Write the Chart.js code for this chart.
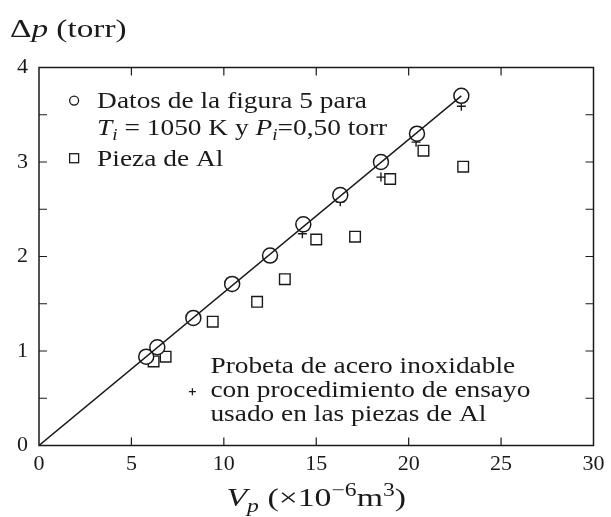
<!DOCTYPE html>
<html>
<head>
<meta charset="utf-8">
<script src="https://cdn.jsdelivr.net/npm/chart.js@4.4.1/dist/chart.umd.min.js"></script>
<style>
  html, body { margin: 0; padding: 0; background: #fff; }
  #wrap { width: 611px; height: 517px; position: relative; }
</style>
</head>
<body>
<div id="wrap"><canvas id="chart" width="611" height="517"></canvas></div>
<script>
// circles: datos de la figura 5
const circleX = [5.8, 6.4, 8.35, 10.45, 12.5, 14.3, 16.3, 18.5, 20.45, 22.85]
const circleY = [0.94, 1.04, 1.35, 1.71, 2.01, 2.34, 2.65, 3.0, 3.30, 3.70]
// squares: pieza de Al
const squareX = [6.2, 6.85, 9.4, 11.8, 13.3, 15.0, 17.1, 19.0, 20.8, 22.95]
const squareY = [0.89, 0.94, 1.31, 1.52, 1.76, 2.18, 2.21, 2.82, 3.12, 2.95]
// plus: probeta de acero inoxidable
const plusX = [5.85, 6.4, 8.35, 10.45, 12.5, 14.25, 16.3, 18.5, 20.4, 22.85]
const plusY = [0.93, 1.05, 1.34, 1.67, 2.0, 2.24, 2.58, 2.84, 3.21, 3.59]
// fitted line
const lineX = [0, 22.85]
const lineY = [0, 3.70]

const xTicks = [0, 5, 10, 15, 20, 25, 30]
const yTicks = [0, 1, 2, 3, 4]

const ink = "#1a1a1a"
const serif = "'Liberation Serif', 'DejaVu Serif', serif"

const pts = (xs, ys) => xs.map((x, i) => ({ x: x, y: ys[i] }))

// draws text made of pieces [text, style], style "" | "i" | "sub" | "sup"
// sx stretches it sideways (computer modern is wider than times)
function drawRich(ctx, x, y, parts, size, sx, measureOnly) {
  ctx.save()
  ctx.translate(x, y)
  ctx.scale(sx, 1)
  let cx = 0
  parts.forEach(([t, s]) => {
    let fs = size
    let dy = 0
    let style = ""
    if (s === "i") style = "italic "
    if (s === "sub") { style = "italic "; fs = size * 0.7; dy = size * 0.22 }
    if (s === "sup") { fs = size * 0.7; dy = -size * 0.4 }
    ctx.font = `${style}${fs}px ${serif}`
    if (!measureOnly) ctx.fillText(t, cx, dy)
    cx += ctx.measureText(t).width
  })
  ctx.restore()
  return cx * sx
}

const decor = {
  id: "decor",
  afterDraw(chart) {
    const ctx = chart.ctx
    const a = chart.chartArea
    const xs = chart.scales.x
    const ys = chart.scales.y
    ctx.save()
    ctx.strokeStyle = ink
    ctx.lineWidth = 1.5
    ctx.strokeRect(a.left, a.top, a.right - a.left, a.bottom - a.top)
    ctx.lineWidth = 1.2
    ctx.beginPath()
    for (let v = 5; v < 30; v += 5) {
      const px = xs.getPixelForValue(v)
      ctx.moveTo(px, a.bottom); ctx.lineTo(px, a.bottom - 8)
      ctx.moveTo(px, a.top); ctx.lineTo(px, a.top + 8)
    }
    for (let v = 0.5; v < 4; v += 0.5) {
      const py = ys.getPixelForValue(v)
      ctx.moveTo(a.left, py); ctx.lineTo(a.left + 8, py)
      ctx.moveTo(a.right, py); ctx.lineTo(a.right - 8, py)
    }
    ctx.stroke()

    ctx.fillStyle = ink
    ctx.textBaseline = "alphabetic"
    ctx.textAlign = "left"
    // axis titles
    drawRich(ctx, 10, 37, [["Δ", ""], ["p", "i"], [" (torr)", ""]], 26, 1.28)
    const xt = [["V", "i"], ["p", "sub"], [" (×10", ""], ["−6", "sup"], ["m", ""], ["3", "sup"], [")", ""]]
    const w = drawRich(ctx, 0, 0, xt, 26, 1.3, true)
    drawRich(ctx, (a.left + a.right) / 2 - w / 2, 506, xt, 26, 1.3)

    // legend top-left
    const L = (vx, vy) => [xs.getPixelForValue(vx), ys.getPixelForValue(vy)]
    const k = 1.19
    let [mx, my] = L(1.9, 3.65)
    ctx.lineWidth = 1.3
    ctx.beginPath(); ctx.arc(mx, my, 4.5, 0, Math.PI * 2); ctx.stroke()
    drawRich(ctx, mx + 23, my + 7, [["Datos de la figura 5 para", ""]], 23, k)
    drawRich(ctx, mx + 23, my + 34, [["T", "i"], ["i", "sub"], [" = 1050 K y ", ""], ["P", "i"], ["i", "sub"], ["=0,50 torr", ""]], 23, k)
    ;[mx, my] = L(1.9, 3.04)
    ctx.strokeRect(mx - 4.5, my - 4.5, 9, 9)
    drawRich(ctx, mx + 23, my + 8, [["Pieza de Al", ""]], 23, k)

    // legend bottom-right
    ;[mx, my] = L(8.3, 0.57)
    ctx.beginPath()
    ctx.moveTo(mx - 3.5, my); ctx.lineTo(mx + 3.5, my)
    ctx.moveTo(mx, my - 3.5); ctx.lineTo(mx, my + 3.5)
    ctx.stroke()
    drawRich(ctx, mx + 18, my - 19, [["Probeta de acero inoxidable", ""]], 23, k)
    drawRich(ctx, mx + 18, my + 5, [["con procedimiento de ensayo", ""]], 23, k)
    drawRich(ctx, mx + 18, my + 29, [["usado en las piezas de Al", ""]], 23, k)
    ctx.restore()
  }
}

new Chart(document.getElementById("chart"), {
  type: "scatter",
  data: {
    datasets: [
      {
        label: "ajuste",
        type: "line",
        data: pts(lineX, lineY),
        borderColor: ink,
        borderWidth: 1.4,
        pointRadius: 0,
        fill: false
      },
      {
        label: "Datos de la figura 5",
        data: pts(circleX, circleY),
        pointStyle: "circle",
        pointRadius: 7.5,
        borderColor: ink,
        borderWidth: 1.5,
        backgroundColor: "#fff"
      },
      {
        label: "Pieza de Al",
        data: pts(squareX, squareY),
        pointStyle: "rect",
        pointRadius: 7.5,
        borderColor: ink,
        borderWidth: 1.4,
        backgroundColor: "rgba(255,255,255,0)"
      },
      {
        label: "Probeta de acero inoxidable",
        data: pts(plusX, plusY),
        pointStyle: "cross",
        pointRadius: 4.5,
        borderColor: ink,
        borderWidth: 1.4
      }
    ]
  },
  options: {
    responsive: false,
    animation: false,
    layout: { padding: { left: 0, right: 17.5, top: 67.5, bottom: 0 } },
    plugins: { legend: { display: false }, tooltip: { enabled: false } },
    scales: {
      x: {
        type: "linear",
        min: 0,
        max: 30,
        afterFit: (s) => { s.height = 517 - 445.5 },
        afterBuildTicks: (s) => { s.ticks = xTicks.map(v => ({ value: v })) },
        grid: { display: false, drawTicks: false },
        border: { display: false },
        ticks: { color: ink, padding: 6, font: { family: serif, size: 22 } }
      },
      y: {
        type: "linear",
        min: 0,
        max: 4,
        afterFit: (s) => { s.width = 39 },
        afterBuildTicks: (s) => { s.ticks = yTicks.map(v => ({ value: v })) },
        grid: { display: false, drawTicks: false },
        border: { display: false },
        ticks: { color: ink, padding: 11, font: { family: serif, size: 22 } }
      }
    }
  },
  plugins: [decor]
})
</script>
</body>
</html>
